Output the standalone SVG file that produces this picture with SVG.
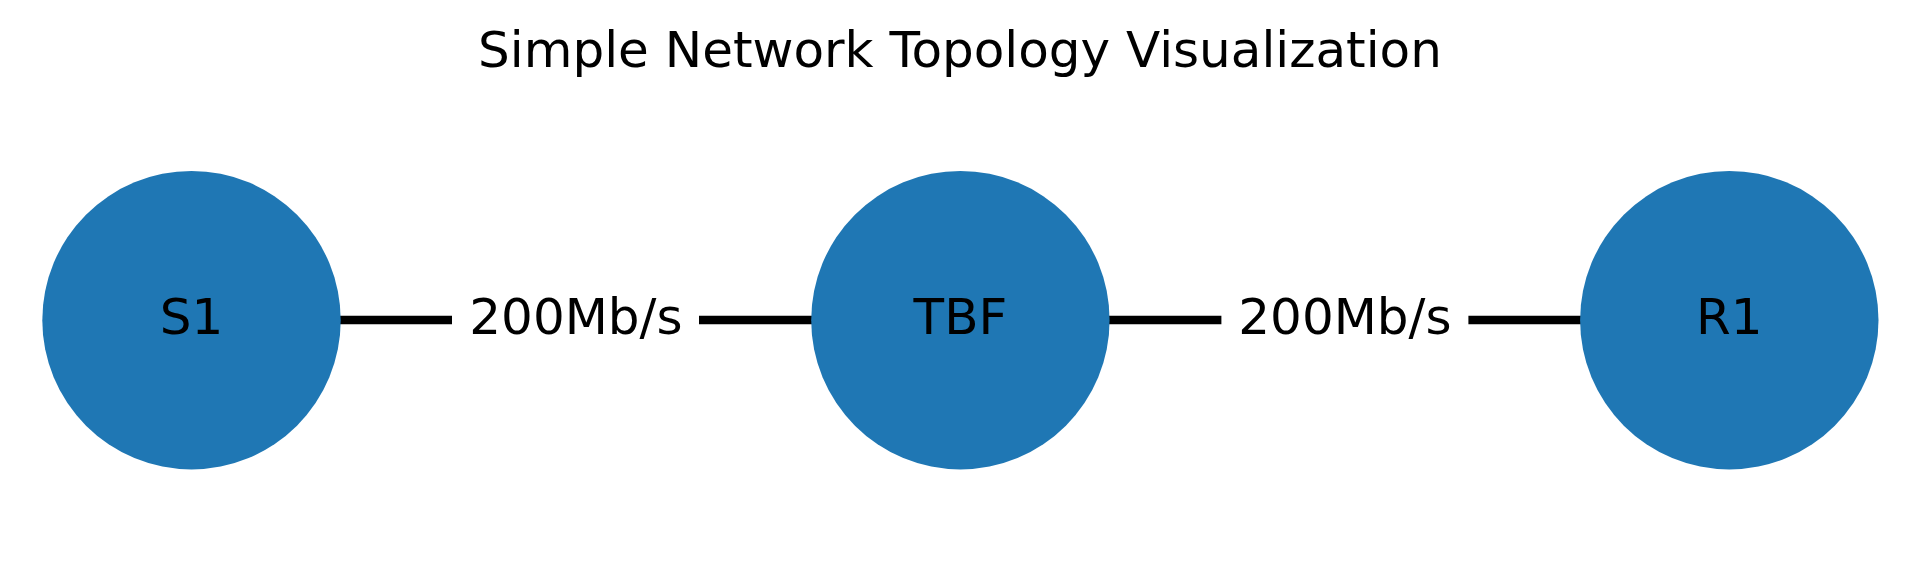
<svg xmlns="http://www.w3.org/2000/svg" width="1919" height="576" viewBox="0 0 1919 576">
<style>
.node{fill:#1f77b4}
.lbl{font-family:"DejaVu Sans",sans-serif;font-size:50px;fill:#000;text-anchor:middle}
.edge{stroke:#000;stroke-width:8.5;fill:none}
.bg{fill:#fff}
.title{font-family:"DejaVu Sans",sans-serif;font-size:50px;fill:#000;text-anchor:middle}
</style>
<rect width="1919" height="576" fill="#fff"/>
<text class="title" x="960" y="67">Simple Network Topology Visualization</text>
<g id="connectors">
<line class="edge" x1="191.5" y1="320" x2="960.4" y2="320"/>
<line class="edge" x1="960.4" y1="320" x2="1729.3" y2="320"/>
<rect class="bg" x="452" y="292" width="247" height="56"/>
<text class="lbl" x="575.9" y="333.5">200Mb/s</text>
<rect class="bg" x="1221.4" y="292" width="247" height="56"/>
<text class="lbl" x="1344.9" y="333.5">200Mb/s</text>
</g>
<g id="node-S1">
<circle class="node" cx="191.5" cy="320.2" r="149.2"/>
<text class="lbl" x="191.5" y="333.5">S1</text>
</g>
<g id="node-TBF">
<circle class="node" cx="960.4" cy="320.2" r="149.2"/>
<text class="lbl" x="960.4" y="333.5">TBF</text>
</g>
<g id="node-R1">
<circle class="node" cx="1729.3" cy="320.2" r="149.2"/>
<text class="lbl" x="1729.3" y="333.5">R1</text>
</g>
</svg>
